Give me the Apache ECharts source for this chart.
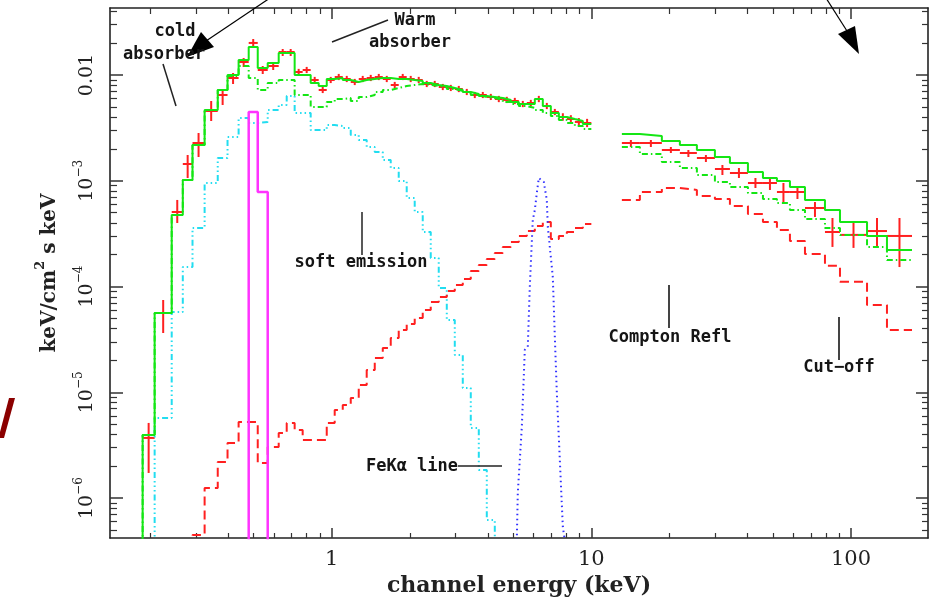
<!DOCTYPE html>
<html><head><meta charset="utf-8">
<script src="https://cdn.jsdelivr.net/npm/echarts@6/dist/echarts.min.js"></script>
<style>html,body{margin:0;padding:0;background:#fff}#c{width:934px;height:600px}</style>
</head><body><div id="c"></div>
<script>
// ---------- axis ranges & tick labels ----------
const X_MIN = 0.14, X_MAX = 198;
const Y_MIN = 4.2e-7, Y_MAX = 0.043;
const X_MAJOR = [1, 10, 100];
const Y_MAJOR = [1e-6, 1e-5, 1e-4, 1e-3, 1e-2];

// ---------- soft band (0.19 - 10 keV) : channel bin edges (keV) ----------
const softEdges = [0.187,0.208,0.242,0.267,0.291,0.324,0.364,0.397,0.438,0.479,
  0.519,0.567,0.625,0.671,0.720,0.773,0.830,0.891,0.957,1.027,
  1.103,1.184,1.271,1.364,1.465,1.573,1.688,1.812,1.945,2.088,
  2.242,2.407,2.584,2.775,2.979,3.198,3.433,3.686,3.957,4.248,
  4.560,4.896,5.256,5.642,6.058,6.503,6.982,7.497,8.048,8.640,9.274,10.0];

// observed data (keV^2 ph/cm2/s/keV)
const softFlux = [3.71e-6,5.63e-5,5.07e-4,1.442e-3,2.277e-3,4.568e-3,6.472e-3,9.368e-3,1.327e-2,2.01e-2,
  1.115e-2,1.216e-2,1.65e-2,1.65e-2,
  1.068e-2,1.115e-2,8.97e-3,7.22e-3,8.97e-3,9.57e-3,9.17e-3,8.59e-3,9.17e-3,9.37e-3,
  9.57e-3,9.17e-3,8.05e-3,9.57e-3,9.17e-3,8.97e-3,8.22e-3,8.22e-3,7.70e-3,7.54e-3,
  7.37e-3,6.91e-3,6.47e-3,6.47e-3,6.20e-3,5.93e-3,5.81e-3,5.68e-3,5.32e-3,5.44e-3,
  5.93e-3,5.09e-3,4.47e-3,4.01e-3,3.84e-3,3.60e-3,3.52e-3];
const softLo = [1.73e-6,3.64e-5,3.99e-4,1.063e-3,1.679e-3,3.675e-3,5.205e-3,8.222e-3,1.19e-2,1.80e-2,
  1.022e-2,1.115e-2,1.512e-2,1.512e-2,
  9.99e-3,1.043e-2,8.39e-3,6.75e-3,8.39e-3,8.95e-3,8.57e-3,8.03e-3,8.57e-3,8.76e-3,
  8.95e-3,8.57e-3,7.53e-3,8.95e-3,8.57e-3,8.39e-3,7.69e-3,7.69e-3,7.20e-3,7.05e-3,
  6.89e-3,6.46e-3,6.05e-3,6.05e-3,5.80e-3,5.54e-3,5.43e-3,5.31e-3,4.97e-3,5.09e-3,
  5.54e-3,4.76e-3,4.18e-3,3.70e-3,3.54e-3,3.31e-3,3.22e-3];
const softHi = [5.14e-6,7.47e-5,6.59e-4,1.753e-3,2.829e-3,5.678e-3,7.374e-3,1.045e-2,1.447e-2,2.189e-2,
  1.216e-2,1.327e-2,1.761e-2,1.761e-2,
  1.143e-2,1.193e-2,9.60e-3,7.73e-3,9.60e-3,1.024e-2,9.81e-3,9.19e-3,9.81e-3,1.003e-2,
  1.024e-2,9.81e-3,8.61e-3,1.024e-2,9.81e-3,9.60e-3,8.80e-3,8.80e-3,8.24e-3,8.07e-3,
  7.89e-3,7.39e-3,6.92e-3,6.92e-3,6.63e-3,6.35e-3,6.22e-3,6.08e-3,5.69e-3,5.82e-3,
  6.35e-3,5.45e-3,4.78e-3,4.35e-3,4.17e-3,3.92e-3,3.85e-3];

// total model (solid green)
const softModel = [3.96e-6,5.63e-5,4.75e-4,1.018e-3,2.18e-3,4.669e-3,7.215e-3,1.0e-2,1.386e-2,1.839e-2,
  1.165e-2,1.299e-2,1.614e-2,1.614e-2,
  1.0e-2,1.0e-2,8.40e-3,7.87e-3,9.17e-3,9.37e-3,8.97e-3,8.59e-3,8.97e-3,9.17e-3,
  9.37e-3,9.37e-3,9.17e-3,9.17e-3,8.97e-3,8.78e-3,8.40e-3,8.05e-3,7.87e-3,7.54e-3,
  7.22e-3,6.91e-3,6.62e-3,6.33e-3,6.20e-3,6.06e-3,5.81e-3,5.56e-3,5.32e-3,5.32e-3,
  5.93e-3,5.09e-3,4.37e-3,4.01e-3,3.84e-3,3.68e-3,3.44e-3];
// absorbed continuum (dashed green)
const softCont = [3.96e-6,5.63e-5,4.75e-4,1.018e-3,2.18e-3,4.67e-3,7.22e-3,9.79e-3,1.216e-2,9.37e-3,
  7.22e-3,8.40e-3,8.97e-3,8.97e-3,
  6.47e-3,6.47e-3,4.98e-3,4.98e-3,5.56e-3,5.93e-3,6.06e-3,5.68e-3,6.20e-3,6.47e-3,
  6.91e-3,7.22e-3,7.54e-3,7.87e-3,8.05e-3,8.22e-3,8.05e-3,7.87e-3,7.70e-3,7.37e-3,
  7.06e-3,6.76e-3,6.47e-3,6.20e-3,6.06e-3,5.81e-3,5.56e-3,5.32e-3,5.09e-3,4.88e-3,
  4.67e-3,4.37e-3,4.10e-3,3.76e-3,3.52e-3,3.30e-3,3.09e-3];
// soft emission component (cyan)
const softEmis = [null,5.73e-6,5.75e-5,1.53e-4,3.58e-4,9.53e-4,1.642e-3,2.594e-3,3.923e-3,3.518e-3,
  3.596e-3,4.669e-3,5.205e-3,6.333e-3,
  4.373e-3,4.373e-3,3.02e-3,3.02e-3,3.368e-3,3.296e-3,3.155e-3,2.71e-3,2.43e-3,2.087e-3,
  1.872e-3,1.572e-3,1.321e-3,9.96e-4,6.88e-4,5.07e-4,3.28e-4,1.864e-4,9.70e-5,4.83e-5,
  2.26e-5,1.10e-5,4.61e-6,1.85e-6,6.22e-7,
  null,null,null,null,null,null,null,null,null,null,null,null];
// Compton reflection (red dashed)
const softRefl = [null,null,null,null,4.49e-7,1.25e-6,2.20e-6,3.32e-6,5.25e-6,5.25e-6,
  2.15e-6,3.05e-6,4.13e-6,5.14e-6,
  4.41e-6,3.55e-6,3.55e-6,3.55e-6,5.14e-6,6.82e-6,7.60e-6,8.85e-6,1.174e-5,1.628e-5,
  2.114e-5,2.628e-5,3.268e-5,3.888e-5,4.431e-5,5.049e-5,6.008e-5,7.150e-5,7.976e-5,9.087e-5,
  1.035e-4,1.179e-4,1.404e-4,1.600e-4,1.823e-4,2.077e-4,2.367e-4,2.640e-4,3.009e-4,3.354e-4,
  3.739e-4,4.079e-4,2.818e-4,3.009e-4,3.282e-4,3.580e-4,3.905e-4];

// narrow emission line near 0.5 keV (magenta)
const lineEdges = [0.479, 0.519, 0.567];
const lineFlux = [4.47e-3, 7.84e-4];

// Fe K-alpha line (blue dotted)
const feE = [5.163,5.209,5.398,5.543,5.692,5.794,5.950,6.058,6.166,6.277,6.389,6.561,6.738,6.798,7.106,7.234,7.364,7.562,7.766,7.905];
const feFlux = [4e-7,1.12e-6,4.71e-6,2.52e-5,2.69e-5,9.91e-5,4.26e-4,5.30e-4,7.67e-4,1.063e-3,1.09e-3,9.74e-4,6.59e-4,3.66e-4,1.23e-4,3.34e-5,9.87e-6,2.30e-6,5.34e-7,4e-7];

// ---------- hard band (13 - 170 keV) ----------
const hardEdges = [13.11,15.38,18.69,21.93,25.50,29.92,34.18,40.10,45.81,51.86,58.20,66.50,79.40,90.71,115.3,137.6,171.8];
const hardFlux = [2.277e-3,2.277e-3,1.955e-3,1.832e-3,1.642e-3,1.293e-3,1.185e-3,9.53e-4,9.53e-4,7.84e-4,7.84e-4,5.53e-4,3.28e-4,3.08e-4,3.35e-4,3.01e-4];
const hardLo = [2.087e-3,2.087e-3,1.832e-3,1.679e-3,1.506e-3,1.134e-3,1.063e-3,8.55e-4,8.19e-4,6.30e-4,6.73e-4,4.55e-4,2.37e-4,2.32e-4,2.37e-4,1.53e-4];
const hardHi = [2.43e-3,2.43e-3,2.087e-3,1.955e-3,1.753e-3,1.411e-3,1.321e-3,1.063e-3,1.063e-3,9.53e-4,8.93e-4,6.30e-4,4.45e-4,3.99e-4,4.45e-4,4.45e-4];
const hardModel = [2.768e-3,2.651e-3,2.377e-3,2.18e-3,1.955e-3,1.679e-3,1.474e-3,1.211e-3,1.063e-3,9.96e-4,8.74e-4,6.59e-4,5.30e-4,4.08e-4,3.01e-4,2.22e-4];
const hardCont = [2.087e-3,1.792e-3,1.506e-3,1.321e-3,1.134e-3,9.74e-4,8.74e-4,7.67e-4,6.73e-4,6.17e-4,5.30e-4,4.35e-4,3.58e-4,3.08e-4,2.37e-4,1.78e-4];
const hardRefl = [6.59e-4,7.84e-4,8.55e-4,8.19e-4,7.18e-4,6.73e-4,5.78e-4,4.86e-4,4.08e-4,3.43e-4,2.70e-4,2.03e-4,1.57e-4,1.11e-4,6.70e-5,3.89e-5];

// ---------- helpers ----------
const FLOOR = 1e-9; // below the plot: used to drop a histogram to the frame
function stepPts(edges, vals, dropStart, dropEnd) {
  let first = -1, last = -1;
  vals.forEach((v, i) => { if (v != null) { if (first < 0) first = i; last = i; } });
  const pts = [];
  if (dropStart) pts.push([edges[first], FLOOR]);
  for (let i = first; i <= last; i++) pts.push([edges[i], vals[i]]);
  pts.push([edges[last + 1], vals[last]]);
  if (dropEnd) pts.push([edges[last + 1], FLOOR]);
  return pts;
}
function crossItems(edges, v, lo, hi) {
  return v.map((val, i) => [edges[i], edges[i + 1], val, lo[i], hi[i]]);
}
function minorTicks(lo, hi) {
  const out = [];
  for (let d = -8; d <= 3; d++) for (let k = 2; k <= 9; k++) {
    const t = k * Math.pow(10, d);
    if (t > lo && t < hi) out.push(t);
  }
  return out;
}
const X_MINOR = minorTicks(X_MIN, X_MAX);
const Y_MINOR = minorTicks(Y_MIN, Y_MAX);

const GREEN = '#14e614', RED = '#ff2020', CYAN = '#22ddf0', MAG = '#ff33ff', BLUE = '#3030ff';
const SERIF = '"DejaVu Serif", serif';
const ANN = '"DejaVu Sans Mono", monospace';
const AX = '#222';

function stepSeries(name, data, color, type, width) {
  return { name, type: 'line', step: 'end', data, showSymbol: false, symbol: 'none', clip: true,
    lineStyle: { color, width: width || 2, type: type || 'solid' }, silent: true, animation: false };
}
const crossRender = (params, api) => {
  const e0 = api.value(0), e1 = api.value(1), v = api.value(2), vl = api.value(3), vh = api.value(4);
  const ec = Math.sqrt(e0 * e1);
  const a = api.coord([e0, v]), b = api.coord([e1, v]);
  const t = api.coord([ec, vh]), u = api.coord([ec, vl]);
  return { type: 'group', children: [
    { type: 'line', shape: { x1: a[0], y1: a[1], x2: b[0], y2: b[1] }, style: { stroke: RED, lineWidth: 2 } },
    { type: 'line', shape: { x1: t[0], y1: t[1], x2: u[0], y2: u[1] }, style: { stroke: RED, lineWidth: 2 } }
  ] };
};
function crossSeries(data) {
  return { type: 'custom', data, renderItem: crossRender, clip: true, animation: false, silent: true,
    encode: { x: [0, 1], y: [2, 3, 4] } };
}

const tickRich = {
  b: { fontFamily: SERIF, fontSize: 19, color: AX, lineHeight: 24, verticalAlign: 'bottom' },
  sup: { fontFamily: SERIF, fontSize: 12, color: AX, lineHeight: 13, verticalAlign: 'top' }
};
const nameRich = {
  b: { fontFamily: SERIF, fontSize: 20, fontWeight: 'bold', color: AX, lineHeight: 26, verticalAlign: 'bottom' },
  sup: { fontFamily: SERIF, fontSize: 13, fontWeight: 'bold', color: AX, lineHeight: 14, verticalAlign: 'top' }
};
function yFmt(v) {
  const e = Math.round(Math.log10(v));
  if (e === -2) return '{b|0.01}';
  return '{b|10}{sup|\u2212' + (-e) + '}';
}

const xBase = { type: 'log', logBase: 10, min: X_MIN, max: X_MAX, splitLine: { show: false },
  axisLabel: { show: false }, axisLine: { show: false }, axisTick: { show: false } };
const yBase = { type: 'log', logBase: 10, min: Y_MIN, max: Y_MAX, splitLine: { show: false },
  axisLabel: { show: false }, axisLine: { show: false }, axisTick: { show: false } };
const lineOn = { show: true, lineStyle: { color: AX, width: 1.6 } };
const tick = (len, vals, w) => ({ show: true, inside: true, length: len, customValues: vals, lineStyle: { color: '#333', width: w } });

const option = {
  backgroundColor: '#fff',
  animation: false,
  grid: { left: 110, right: 6, top: 8, bottom: 62, containLabel: false, outerBoundsMode: 'none' },
  xAxis: [
    Object.assign({}, xBase, { position: 'bottom', axisLine: lineOn, axisTick: tick(10, X_MAJOR, 1.5),
      axisLabel: { show: true, customValues: X_MAJOR, formatter: v => String(Math.round(v)), fontFamily: SERIF, fontSize: 21, color: AX, margin: 11 },
      name: 'channel energy (keV)', nameLocation: 'middle', nameGap: 37,
      nameTextStyle: { fontFamily: SERIF, fontSize: 22, fontWeight: 'bold', color: AX } }),
    Object.assign({}, xBase, { position: 'bottom', axisTick: tick(5, X_MINOR, 1.2) }),
    Object.assign({}, xBase, { position: 'top', axisLine: lineOn, axisTick: tick(11, X_MAJOR, 1.5) }),
    Object.assign({}, xBase, { position: 'top', axisTick: tick(6, X_MINOR, 1.2) })
  ],
  yAxis: [
    Object.assign({}, yBase, { position: 'left', axisLine: lineOn, axisTick: tick(13, Y_MAJOR, 1.5),
      axisLabel: { show: true, customValues: Y_MAJOR, rotate: 90, margin: 13, formatter: yFmt, rich: tickRich },
      name: '{b|keV/cm}{sup|2}{b| s keV}', nameLocation: 'middle', nameGap: 50, nameRotate: 90,
      nameTextStyle: { rich: nameRich } }),
    Object.assign({}, yBase, { position: 'left', axisTick: tick(7, Y_MINOR, 1.2) }),
    Object.assign({}, yBase, { position: 'right', axisLine: lineOn, axisTick: tick(12, Y_MAJOR, 1.5) }),
    Object.assign({}, yBase, { position: 'right', axisTick: tick(6, Y_MINOR, 1.2) })
  ],
  series: [
    stepSeries('soft emission', stepPts(softEdges, softEmis, true, true), CYAN, [6, 3, 1.5, 3, 1.5, 3, 1.5, 3], 2),
    stepSeries('reflection soft', stepPts(softEdges, softRefl, true, false), RED, [9, 5], 2),
    stepSeries('reflection hard', stepPts(hardEdges, hardRefl, false, false), RED, [9, 5], 2),
    { name: 'FeKa', type: 'line', data: feE.map((e, i) => [e, feFlux[i]]), showSymbol: false, symbol: 'none', clip: true,
      lineStyle: { color: BLUE, width: 2, type: [1.5, 3.5] }, silent: true },
    stepSeries('line 0.5 keV', stepPts(lineEdges, lineFlux, true, true), MAG, 'solid', 2.5),
    stepSeries('continuum soft', stepPts(softEdges, softCont, true, false), GREEN, [6, 3, 1.5, 3], 2),
    stepSeries('continuum hard', stepPts(hardEdges, hardCont, false, false), GREEN, [6, 3, 1.5, 3], 2),
    stepSeries('model soft', stepPts(softEdges, softModel, true, false), GREEN, 'solid', 2),
    stepSeries('model hard', stepPts(hardEdges, hardModel, false, false), GREEN, 'solid', 2),
    crossSeries(crossItems(softEdges, softFlux, softLo, softHi)),
    crossSeries(crossItems(hardEdges, hardFlux, hardLo, hardHi))
  ],
  graphic: [
    { type: 'polygon', shape: { points: [[9, 398], [15, 398], [4, 438], [0, 438], [0, 432]] }, style: { fill: '#8b0000' }, z: 50 },
    { type: 'line', shape: { x1: 270, y1: -2, x2: 206, y2: 41 }, style: { stroke: '#000', lineWidth: 1.2 }, z: 50 },
    { type: 'polygon', shape: { points: [[187, 57], [201, 32], [214, 47]] }, style: { fill: '#000' }, z: 50 },
    { type: 'line', shape: { x1: 826, y1: -2, x2: 847, y2: 31 }, style: { stroke: '#000', lineWidth: 1.2 }, z: 50 },
    { type: 'polygon', shape: { points: [[859, 54], [838, 34], [855, 26]] }, style: { fill: '#000' }, z: 50 },
    { type: 'line', shape: { x1: 163, y1: 64, x2: 176, y2: 106 }, style: { stroke: '#222', lineWidth: 1.5 }, z: 50 },
    { type: 'line', shape: { x1: 332, y1: 42, x2: 388, y2: 20 }, style: { stroke: '#222', lineWidth: 1.5 }, z: 50 },
    { type: 'line', shape: { x1: 362, y1: 212, x2: 362, y2: 255 }, style: { stroke: '#222', lineWidth: 1.5 }, z: 50 },
    { type: 'line', shape: { x1: 458, y1: 466, x2: 502, y2: 466 }, style: { stroke: '#222', lineWidth: 1.5 }, z: 50 },
    { type: 'line', shape: { x1: 669, y1: 285, x2: 669, y2: 328 }, style: { stroke: '#444', lineWidth: 2 }, z: 50 },
    { type: 'line', shape: { x1: 839, y1: 317, x2: 839, y2: 360 }, style: { stroke: '#444', lineWidth: 2 }, z: 50 },
    ...[['cold', 175, 32], ['absorber', 164, 55], ['Warm', 415, 21], ['absorber', 410, 43],
        ['soft emission', 361, 263], ['FeK\u03b1 line', 412, 467], ['Compton Refl', 670, 338], ['Cut\u2212off', 839, 368]]
      .map(([t, x, y]) => ({ type: 'text', x, y, z: 51,
        style: { text: t, font: 'bold 17px ' + ANN, fill: '#151515', align: 'center', verticalAlign: 'middle' } }))
  ]
};
const chart = echarts.init(document.getElementById('c'), null, { renderer: 'canvas' });
chart.setOption(option);
</script></body></html>
